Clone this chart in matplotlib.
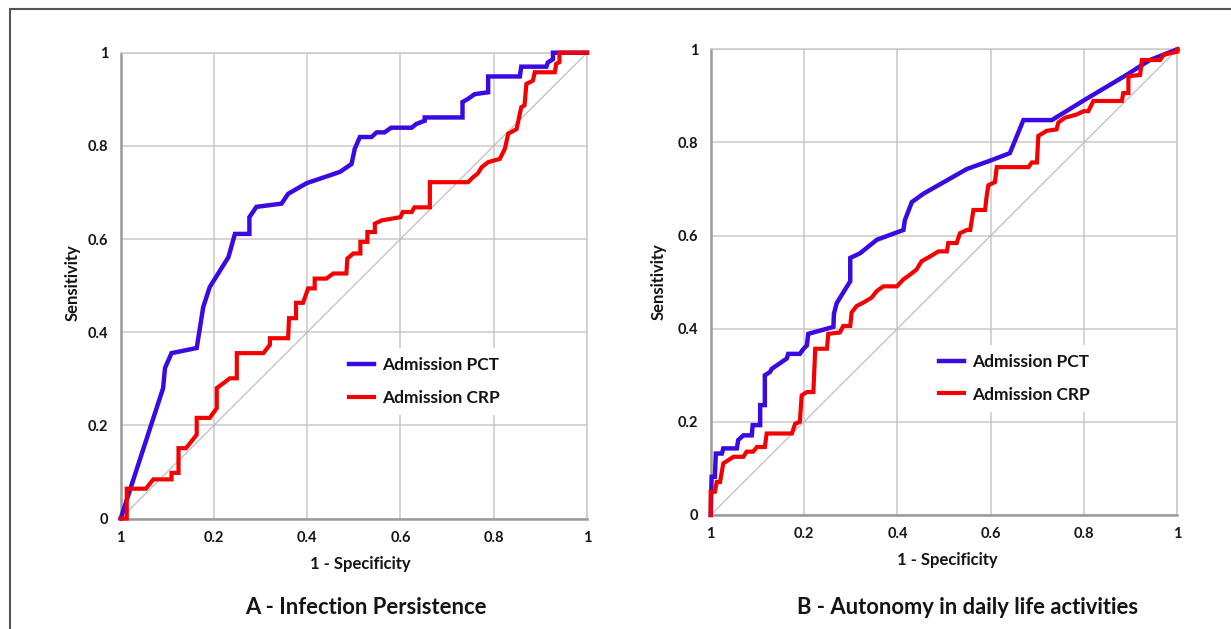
import matplotlib
matplotlib.use("Agg")
import matplotlib.pyplot as plt
from matplotlib.patches import Rectangle
from matplotlib.font_manager import FontProperties

# ---------------- data ----------------
x_ticks = [0, 0.2, 0.4, 0.6, 0.8, 1.0]
x_tick_labels = ["1", "0.2", "0.4", "0.6", "0.8", "1"]
y_ticks = [0, 0.2, 0.4, 0.6, 0.8, 1.0]
y_tick_labels = ["0", "0.2", "0.4", "0.6", "0.8", "1"]
series_names = ["Admission PCT", "Admission CRP"]
panel_titles = ["A - Infection Persistence", "B - Autonomy in daily life activities"]

# Panel A: PCT
a_pct_fpr = [0, 0.091, 0.095, 0.109, 0.163, 0.177, 0.191, 0.231, 0.245, 0.276, 0.276, 0.291,
             0.345, 0.359, 0.399, 0.47, 0.495, 0.502, 0.513, 0.538, 0.549, 0.566, 0.58, 0.624,
             0.634, 0.652, 0.652, 0.733, 0.733, 0.745, 0.759, 0.788, 0.788, 0.856, 0.859, 0.913,
             0.916, 0.927, 0.927, 1.0]
a_pct_tpr = [0, 0.28, 0.323, 0.355, 0.366, 0.454, 0.497, 0.561, 0.611, 0.611, 0.647, 0.669,
             0.676, 0.697, 0.72, 0.744, 0.761, 0.794, 0.819, 0.819, 0.829, 0.829, 0.839, 0.839,
             0.847, 0.854, 0.861, 0.861, 0.894, 0.901, 0.911, 0.915, 0.949, 0.949, 0.97, 0.97,
             0.979, 0.986, 1.0, 1.0]
# Panel A: CRP
a_crp_fpr = [0, 0.013, 0.013, 0.054, 0.07, 0.109, 0.109, 0.124, 0.124, 0.14, 0.152, 0.163,
             0.163, 0.191, 0.206, 0.206, 0.221, 0.234, 0.249, 0.249, 0.306, 0.32, 0.32, 0.359,
             0.361, 0.376, 0.376, 0.391, 0.402, 0.416, 0.416, 0.441, 0.456, 0.484, 0.486, 0.499,
             0.514, 0.514, 0.529, 0.529, 0.545, 0.545, 0.56, 0.6, 0.605, 0.624, 0.63, 0.663,
             0.663, 0.745, 0.756, 0.766, 0.774, 0.788, 0.813, 0.824, 0.831, 0.849, 0.859, 0.866,
             0.87, 0.884, 0.888, 0.931, 0.934, 0.941, 0.941, 1.0]
a_crp_tpr = [0, 0, 0.064, 0.064, 0.084, 0.084, 0.098, 0.098, 0.151, 0.151, 0.166, 0.18,
             0.216, 0.216, 0.237, 0.28, 0.291, 0.301, 0.301, 0.355, 0.355, 0.373, 0.387, 0.387,
             0.43, 0.43, 0.463, 0.463, 0.494, 0.494, 0.515, 0.515, 0.526, 0.526, 0.558, 0.569,
             0.569, 0.594, 0.594, 0.615, 0.615, 0.633, 0.64, 0.647, 0.658, 0.658, 0.668, 0.668,
             0.722, 0.722, 0.733, 0.741, 0.754, 0.765, 0.772, 0.794, 0.826, 0.836, 0.883, 0.887,
             0.933, 0.94, 0.958, 0.958, 0.976, 0.98, 1.0, 1.0]

# Panel B: PCT
b_pct_fpr = [0, 0.002, 0.009, 0.011, 0.024, 0.027, 0.056, 0.059, 0.07, 0.088, 0.09, 0.106,
             0.106, 0.116, 0.116, 0.127, 0.131, 0.163, 0.166, 0.191, 0.199, 0.206, 0.209, 0.249,
             0.263, 0.264, 0.27, 0.299, 0.299, 0.32, 0.356, 0.413, 0.416, 0.431, 0.456, 0.549,
             0.599, 0.641, 0.67, 0.731, 0.799, 0.891, 0.941, 1.0]
b_pct_tpr = [0, 0.082, 0.082, 0.132, 0.132, 0.143, 0.143, 0.161, 0.171, 0.171, 0.193, 0.193,
             0.236, 0.236, 0.3, 0.307, 0.314, 0.336, 0.346, 0.346, 0.357, 0.364, 0.389, 0.4,
             0.404, 0.432, 0.455, 0.502, 0.552, 0.562, 0.591, 0.612, 0.633, 0.672, 0.69, 0.743,
             0.761, 0.777, 0.848, 0.848, 0.89, 0.945, 0.977, 1.0]
# Panel B: CRP
b_crp_fpr = [0, 0, 0.009, 0.013, 0.02, 0.027, 0.038, 0.049, 0.07, 0.077, 0.091, 0.099, 0.116,
             0.12, 0.174, 0.181, 0.191, 0.195, 0.206, 0.22, 0.224, 0.249, 0.252, 0.277, 0.284,
             0.299, 0.302, 0.313, 0.327, 0.345, 0.356, 0.37, 0.399, 0.413, 0.427, 0.441, 0.452,
             0.47, 0.488, 0.506, 0.509, 0.527, 0.534, 0.549, 0.556, 0.563, 0.588, 0.591, 0.595,
             0.609, 0.613, 0.681, 0.688, 0.699, 0.702, 0.72, 0.741, 0.745, 0.759, 0.784, 0.799,
             0.809, 0.82, 0.881, 0.884, 0.895, 0.895, 0.92, 0.924, 0.963, 0.97, 1.0, 1.0]
b_crp_tpr = [0, 0.05, 0.05, 0.071, 0.071, 0.111, 0.118, 0.125, 0.125, 0.136, 0.136, 0.146, 0.146,
             0.175, 0.175, 0.196, 0.2, 0.257, 0.264, 0.264, 0.357, 0.357, 0.389, 0.392, 0.406,
             0.406, 0.435, 0.449, 0.456, 0.467, 0.481, 0.491, 0.491, 0.506, 0.516, 0.527, 0.545,
             0.555, 0.566, 0.566, 0.584, 0.584, 0.605, 0.612, 0.612, 0.655, 0.655, 0.683, 0.708,
             0.715, 0.747, 0.747, 0.757, 0.757, 0.814, 0.825, 0.828, 0.843, 0.853, 0.86, 0.867,
             0.867, 0.889, 0.889, 0.906, 0.906, 0.942, 0.945, 0.977, 0.977, 0.988, 0.995, 1.0]

# ---------------- style ----------------
FONT = ["Lato", "DejaVu Sans"]
plt.rcParams["font.family"] = FONT
BLUE = "#3a0ae0"
RED = "#f50000"
GRID = "#c9c9c9"
SPINE = "#9a9a9a"
TXT = "#141414"

W, H = 1231, 629
fig = plt.figure(figsize=(W / 100, H / 100), dpi=100)
fig.patch.set_facecolor("white")

# axes rectangles in pixels (left, top, right, bottom)
panel_px = [(120.7, 52.7, 587.0, 518.5), (710.7, 49.3, 1177.4, 515.0)]
xlabel_px = [(360, 564), (947, 560)]
ylabel_px = [(73, 283), (659, 282)]
title_px = [(366, 607), (968, 607)]

panels = [
    (a_pct_fpr, a_pct_tpr, a_crp_fpr, a_crp_tpr),
    (b_pct_fpr, b_pct_tpr, b_crp_fpr, b_crp_tpr),
]

for i, (pf, pt, cf, ct) in enumerate(panels):
    l, t, r, b = panel_px[i]
    ax = fig.add_axes([l / W, 1 - b / H, (r - l) / W, (b - t) / H])
    ax.set_xlim(0, 1)
    ax.set_ylim(0, 1)
    ax.set_xticks(x_ticks)
    ax.set_xticklabels(x_tick_labels)
    ax.set_yticks(y_ticks)
    ax.set_yticklabels(y_tick_labels)
    ax.tick_params(length=0, labelsize=10.5, colors=TXT, pad=9)
    for lab in ax.get_xticklabels() + ax.get_yticklabels():
        lab.set_fontweight("bold")
    ax.grid(True, color=GRID, linewidth=1.1, zorder=0)
    ax.set_axisbelow(True)
    for s in ["top", "right"]:
        ax.spines[s].set_color(GRID)
        ax.spines[s].set_linewidth(1.1)
    for s in ["left", "bottom"]:
        ax.spines[s].set_color(SPINE)
        ax.spines[s].set_linewidth(1.8)

    # chance diagonal
    ax.plot(x_ticks, y_ticks, color="#b8b8b8", linewidth=0.8, zorder=1)

    lp, = ax.plot(pf, pt, color=BLUE, linewidth=3.2, solid_joinstyle="miter",
                  label=series_names[0], zorder=3, clip_on=False)
    lc, = ax.plot(cf, ct, color=RED, linewidth=3.0, solid_joinstyle="miter",
                  label=series_names[1], zorder=4, clip_on=False)

    # legend
    leg_left_px = l + 219
    leg_cy_px = t + 329
    leg = ax.legend(handles=[lp, lc], loc="center left",
                    bbox_to_anchor=((leg_left_px - l) / (r - l), (b - leg_cy_px) / (b - t)),
                    borderaxespad=0.0,
                    frameon=True, facecolor="white", edgecolor="none", framealpha=1.0,
                    fancybox=False,
                    prop=FontProperties(family=FONT, weight="bold", size=12.5),
                    handlelength=1.4, handletextpad=0.5, labelspacing=0.95, borderpad=0.55)
    for txt in leg.get_texts():
        txt.set_color(TXT)
    leg.set_zorder(5)

    # axis labels
    xl = ax.set_xlabel("1 - Specificity", fontsize=12, fontweight="bold", color=TXT)
    ax.xaxis.set_label_coords((xlabel_px[i][0] - l) / (r - l), (b - xlabel_px[i][1]) / (b - t))
    xl.set_va("center")
    yl = ax.set_ylabel("Sensitivity", fontsize=12, fontweight="bold", color=TXT)
    ax.yaxis.set_label_coords((ylabel_px[i][0] - l) / (r - l), (b - ylabel_px[i][1]) / (b - t))
    yl.set_va("center")

    fig.text(title_px[i][0] / W, 1 - title_px[i][1] / H, panel_titles[i],
             fontsize=15.8, fontweight="bold", color=TXT, ha="center", va="center")

# outer frame
fig.add_artist(Rectangle((10 / W, -0.1), 1.2, 1 - 9 / H + 0.1, transform=fig.transFigure,
                         fill=False, edgecolor="#555555", linewidth=1.5))

fig.savefig("out.png", dpi=100)
